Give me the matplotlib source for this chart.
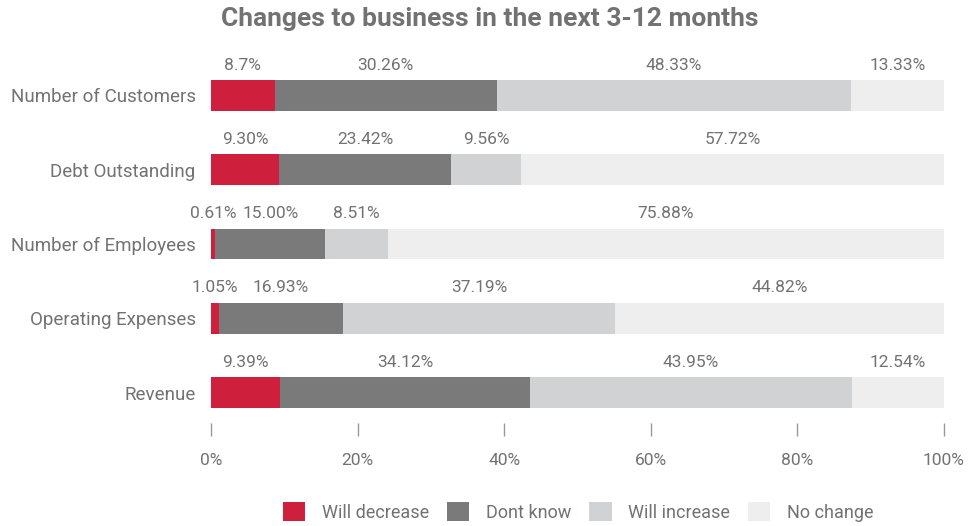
import matplotlib
matplotlib.use('Agg')
import matplotlib.pyplot as plt
from matplotlib.patches import Patch

plt.rcParams['font.family'] = ['Roboto', 'DejaVu Sans']

# data
categories = ['Number of Customers', 'Debt Outstanding', 'Number of Employees',
              'Operating Expenses', 'Revenue']
series = ['Will decrease', 'Dont know', 'Will increase', 'No change']
decrease = [8.7, 9.30, 0.61, 1.05, 9.39]
dont_know = [30.26, 23.42, 15.00, 16.93, 34.12]
increase = [48.33, 9.56, 8.51, 37.19, 43.95]
no_change = [13.33, 57.72, 75.88, 44.82, 12.54]
decrease_lbl = ['8.7%', '9.30%', '0.61%', '1.05%', '9.39%']
x_ticks = [0, 20, 40, 60, 80, 100]
x_tick_labels = ['0%', '20%', '40%', '60%', '80%', '100%']

colors = ['#CE1F3D', '#7A7A7A', '#D1D2D4', '#EEEEEE']
txt = '#727272'

fig = plt.figure(figsize=(9.68, 5.26), dpi=100)
ax = fig.add_axes([211 / 968, 1 - 423 / 526, 733 / 968, 363 / 526])

h = 0.4175
ypos = list(range(len(categories)))
left = [0] * len(categories)
for k, vals in enumerate([decrease, dont_know, increase, no_change]):
    ax.barh(ypos, vals, left=left, height=h, color=colors[k], label=series[k])
    for i, v in enumerate(vals):
        if k == 0:
            s = decrease_lbl[i]
        else:
            s = '{:.2f}%'.format(v)
        # centre over the visible part of the segment
        cx = (left[i] + min(left[i] + v, 100)) / 2
        ax.text(cx, i - h / 2 - 0.1, s, ha='center', va='bottom',
                fontsize=12.5, color=txt)
    left = [a + b for a, b in zip(left, vals)]

ax.set_xlim(0, 100)
ax.set_ylim(4 + 30.5 / 74.25, -35.5 / 74.25)
ax.set_yticks(ypos)
ax.set_yticklabels(categories, fontsize=13.5, color=txt)
ax.tick_params(axis='y', length=0, pad=11)
ax.set_xticks(x_ticks)
ax.set_xticklabels(x_tick_labels, fontsize=12.5, color=txt)
ax.tick_params(axis='x', length=9.5, color='#999999', pad=12, width=1)
for sp in ax.spines.values():
    sp.set_visible(False)

fig.text(490 / 968, 1 - 19 / 526, 'Changes to business in the next 3-12 months',
         ha='center', va='center', fontsize=19, fontweight='bold', color=txt)

handles = [Patch(facecolor=c, edgecolor='none') for c in colors]
fig.legend(handles, series, loc='center', bbox_to_anchor=(578 / 968, 1 - 512 / 526),
           ncol=4, frameon=False, fontsize=13, labelcolor=txt,
           handlelength=1.25, handleheight=1.25, handletextpad=0.9, columnspacing=1.0)

fig.savefig('out.png', dpi=100)
